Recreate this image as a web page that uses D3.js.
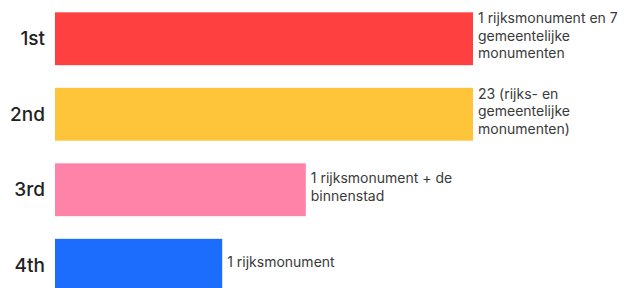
<!DOCTYPE html>
<html>
<head>
<meta charset="utf-8">
<script src="https://cdn.jsdelivr.net/npm/d3@7"></script>
<style>
  html, body { margin: 0; padding: 0; background: #fff; }
  svg { display: block; font-family: Inter, "Open Sans", sans-serif; }
</style>
</head>
<body>
<div id="chart"></div>
<script>
// data
const ranks = ['1st', '2nd', '3rd', '4th'];
const scores = [5, 5, 3, 2];
const colors = ['#fe4040', '#fec53a', '#ff82a8', '#1c6cfd'];
const valueLabels = [
    ['1 rijksmonument en 7', 'gemeentelijke', 'monumenten'],
    ['23 (rijks- en', 'gemeentelijke', 'monumenten)'],
    ['1 rijksmonument + de', 'binnenstad'],
    ['1 rijksmonument']
];

const width = 624, height = 288;
const left = 55, barMax = 473;
const lineH = 17.5;

const svg = d3.select('#chart')
    .append('svg')
    .attr('width', width)
    .attr('height', height);

const x = d3.scaleLinear().domain([0, 5]).range([left, barMax]);
const y = d3.scaleBand()
    .domain(ranks)
    .range([1, 303])
    .paddingInner(0.3)
    .paddingOuter(0.15);

const rows = ranks.map((r, i) => ({ rank: r, score: scores[i], color: colors[i], lines: valueLabels[i] }));

// bars
svg.append('g')
    .selectAll('rect')
    .data(rows)
    .join('rect')
    .attr('x', x(0))
    .attr('y', d => y(d.rank))
    .attr('width', d => x(d.score) - x(0))
    .attr('height', y.bandwidth())
    .attr('fill', d => d.color);

// rank labels (left axis, no line)
const yAxis = svg.append('g')
    .attr('transform', `translate(${left},0)`)
    .call(d3.axisLeft(y).tickSize(0).tickPadding(10));
yAxis.select('.domain').remove();
yAxis.selectAll('text')
    .attr('font-family', 'Inter, sans-serif')
    .attr('font-size', '19px')
    .attr('font-weight', 500)
    .attr('fill', '#222')
    .attr('dy', '0.35em');

// value labels next to each bar
const labels = svg.append('g')
    .selectAll('text')
    .data(rows)
    .join('text')
    .attr('x', d => x(d.score) + 5)
    .attr('y', d => y(d.rank) + y.bandwidth() / 2 - 2 - (d.lines.length - 1) * lineH / 2)
    .attr('font-size', '14px')
    .attr('fill', '#3a3a3a')
    .attr('dominant-baseline', 'middle');

labels.selectAll('tspan')
    .data(d => d.lines.map((t, j) => ({ t, j, x: x(d.score) + 5 })))
    .join('tspan')
    .attr('x', d => d.x)
    .attr('dy', d => d.j === 0 ? 0 : lineH)
    .text(d => d.t);
</script>
</body>
</html>
